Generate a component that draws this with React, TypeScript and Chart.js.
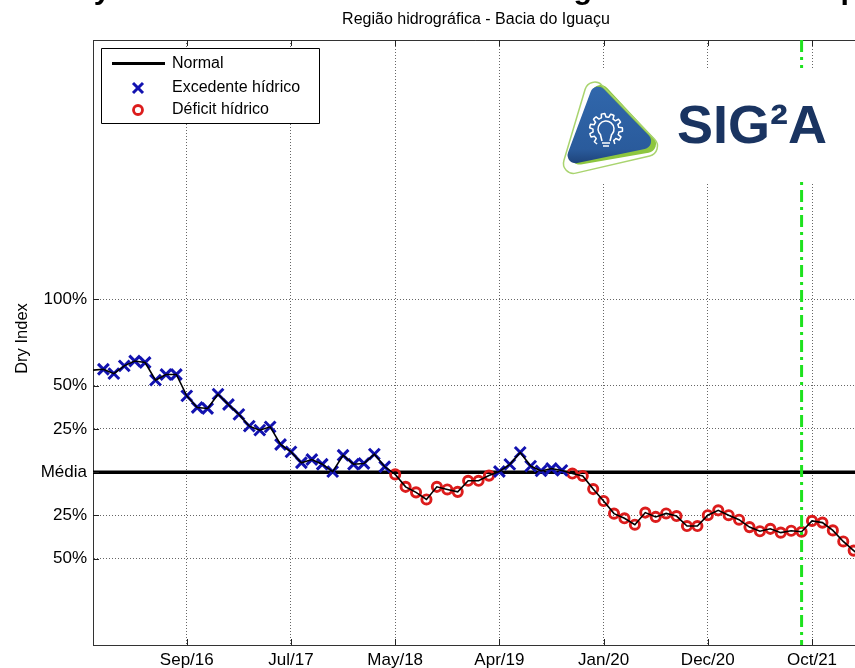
import React, { useEffect, useRef } from "react";
import { Chart, registerables } from "chart.js";

Chart.register(...registerables);

const FONT = '"Liberation Sans", Arial, Helvetica, sans-serif';

// Dry index per period (%, 0 = média). First value is the lead-in at the axis edge.
const dryIndex = [
  59.0, 59.5, 57.0, 61.5, 64.3, 63.4, 53.2, 56.5, 56.5, 44.1,
  37.4, 36.8, 45.1, 39.1, 33.4, 26.6, 24.3, 26.2, 16.0, 11.7,
  5.4, 7.3, 4.6, 0.3, 9.8, 4.6, 5.0, 10.4, 3.1, -1.3,
  -8.5, -11.7, -15.8, -8.5, -10.0, -11.4, -5.0, -5.0, -2.0, 0.4,
  4.5, 11.4, 3.5, 0.7, 2.1, 1.0, -0.8, -2.2, -9.8, -16.7,
  -24.0, -26.7, -30.4, -23.4, -25.9, -23.9, -25.4, -31.2, -31.2, -24.9,
  -22.1, -24.9, -27.5, -31.8, -34.2, -32.8, -35.0, -33.9, -34.5, -28.2,
  -29.2, -33.7, -40.1, -45.4, -50.5,
];
const tickIndices = [9, 19, 29, 39, 49, 59, 69];
const tickLabels = ["Sep/16", "Jul/17", "May/18", "Apr/19", "Jan/20", "Dec/20", "Oct/21"];
const yTickValues = [100, 50, 25, 0, -25, -50];
const yTickLabels = ["100%", "50%", "25%", "Média", "25%", "50%"];
const seriesNames = ["Normal", "Excedente hídrico", "Déficit hídrico"];
const normalValue = 0;
const markerIndex = 68;
const titleText = "Dry Index - Monitor da Seca Hidrológica Anual no Tempo";
const subtitleText = "Região hidrográfica - Bacia do Iguaçu";
const yAxisTitle = "Dry Index";
const logoText = "SIG²A";

const X_MIN = 0;
const X_MAX = 73.5;
const Y_MIN = -100;
const Y_MAX = 250;

const BLUE = "#1212b0";
const RED = "#dc1c1c";
const GREEN = "#1ee21e";

function line(ctx: CanvasRenderingContext2D, x1: number, y1: number, x2: number, y2: number) {
  ctx.beginPath();
  ctx.moveTo(x1, y1);
  ctx.lineTo(x2, y2);
  ctx.stroke();
}

function roundedPoly(ctx: CanvasRenderingContext2D, pts: number[][], r: number) {
  const n = pts.length;
  const a = pts[n - 1];
  const b = pts[0];
  ctx.beginPath();
  ctx.moveTo((a[0] + b[0]) / 2, (a[1] + b[1]) / 2);
  for (let i = 0; i < n; i++) {
    const p = pts[i];
    const q = pts[(i + 1) % n];
    ctx.arcTo(p[0], p[1], q[0], q[1], r);
  }
  ctx.closePath();
}

function drawX(ctx: CanvasRenderingContext2D, x: number, y: number, s: number) {
  ctx.strokeStyle = BLUE;
  ctx.lineWidth = 3;
  line(ctx, x - s, y - s, x + s, y + s);
  line(ctx, x - s, y + s, x + s, y - s);
}

function drawO(ctx: CanvasRenderingContext2D, x: number, y: number) {
  ctx.strokeStyle = RED;
  ctx.lineWidth = 2.8;
  ctx.beginPath();
  ctx.arc(x, y, 4.5, 0, Math.PI * 2);
  ctx.stroke();
}

const decorPlugin = {
  id: "decor",
  afterDraw(chart: any) {
    const ctx: CanvasRenderingContext2D = chart.ctx;
    const ca = chart.chartArea;
    const xs = chart.scales.x;
    const ys = chart.scales.y;
    ctx.save();

    // top border of the axes box
    ctx.strokeStyle = "#333";
    ctx.lineWidth = 1;
    line(ctx, ca.left, ca.top + 0.5, ca.right, ca.top + 0.5);

    // inward tick marks
    ctx.strokeStyle = "#222";
    tickIndices.forEach((v) => {
      const px = Math.round(xs.getPixelForValue(v)) + 0.5;
      line(ctx, px, ca.bottom, px, ca.bottom - 6);
      line(ctx, px, ca.top, px, ca.top + 6);
    });
    yTickValues.forEach((v) => {
      const py = Math.round(ys.getPixelForValue(v)) + 0.5;
      line(ctx, ca.left, py, ca.left + 6, py);
    });

    // green dash-dot vertical marker
    const gx = xs.getPixelForValue(markerIndex);
    ctx.strokeStyle = GREEN;
    ctx.lineWidth = 3;
    ctx.setLineDash([12, 5, 3, 5]);
    line(ctx, gx, ca.top, gx, ca.bottom);
    ctx.setLineDash([]);

    // logo
    ctx.fillStyle = "#ffffff";
    ctx.fillRect(548, 68, 320, 114);
    ctx.lineJoin = "round";
    ctx.fillStyle = "#8dc63f";
    roundedPoly(ctx, [[597, 77], [566, 167], [665, 150]], 9);
    ctx.fill();
    ctx.strokeStyle = "#a9d46f";
    ctx.lineWidth = 1.5;
    roundedPoly(ctx, [[590, 73], [559, 177], [667, 152]], 10);
    ctx.stroke();
    const grad = ctx.createLinearGradient(0, 82, 0, 166);
    grad.addColorStop(0, "#3168ad");
    grad.addColorStop(0.8, "#2a5b9c");
    grad.addColorStop(1, "#1c3f74");
    ctx.fillStyle = grad;
    roundedPoly(ctx, [[595, 80], [563, 166], [659, 146]], 8);
    ctx.fill();
    // gear + bulb icon
    const cx = 606;
    const cy = 130;
    ctx.strokeStyle = "#ffffff";
    ctx.lineWidth = 1.5;
    ctx.beginPath();
    const teeth = 9;
    const start = Math.PI * 0.68;
    const end = Math.PI * 2.32;
    for (let k = 0; k <= 72; k++) {
      const t = start + ((end - start) * k) / 72;
      const phase = ((t - start) / (end - start)) * teeth;
      const r = phase % 1 < 0.5 ? 16.5 : 13;
      const px = cx + Math.cos(t) * r;
      const py = cy + Math.sin(t) * r;
      if (k === 0) ctx.moveTo(px, py);
      else ctx.lineTo(px, py);
    }
    ctx.stroke();
    ctx.beginPath();
    ctx.arc(cx, cy - 1, 8, Math.PI * 0.72, Math.PI * 2.28);
    ctx.stroke();
    line(ctx, cx - 5.5, cy + 5, cx - 4, cy + 11);
    line(ctx, cx + 5.5, cy + 5, cx + 4, cy + 11);
    line(ctx, cx - 4, cy + 13, cx + 4, cy + 13);
    line(ctx, cx - 3, cy + 16, cx + 3, cy + 16);
    ctx.fillStyle = "#1a3461";
    ctx.font = `bold 54px ${FONT}`;
    ctx.textAlign = "left";
    ctx.textBaseline = "alphabetic";
    ctx.fillText(logoText, 677, 143);

    // legend
    ctx.fillStyle = "#ffffff";
    ctx.fillRect(101.5, 48.5, 218, 75);
    ctx.strokeStyle = "#000";
    ctx.lineWidth = 1;
    ctx.strokeRect(101.5, 48.5, 218, 75);
    ctx.lineWidth = 3;
    line(ctx, 112, 63.5, 165, 63.5);
    drawX(ctx, 138, 88, 5);
    drawO(ctx, 138, 110);
    ctx.fillStyle = "#000";
    ctx.font = `16px ${FONT}`;
    ctx.textBaseline = "middle";
    ctx.fillText(seriesNames[0], 172, 64);
    ctx.fillText(seriesNames[1], 172, 88);
    ctx.fillText(seriesNames[2], 172, 110);

    // titles (main title sits above the visible frame; only its descenders show)
    ctx.textAlign = "left";
    ctx.font = `bold 30.3px ${FONT}`;
    ctx.textBaseline = "alphabetic";
    ctx.fillText(titleText, 60, -1);
    const midX = (ca.left + ca.right) / 2;
    ctx.textAlign = "center";
    ctx.font = `16px ${FONT}`;
    ctx.textBaseline = "middle";
    ctx.fillText(subtitleText, midX, 20);

    // y axis title
    ctx.save();
    ctx.translate(22, (ca.top + ca.bottom) / 2 - 4);
    ctx.rotate(-Math.PI / 2);
    ctx.font = `16.5px ${FONT}`;
    ctx.textAlign = "center";
    ctx.textBaseline = "middle";
    ctx.fillText(yAxisTitle, 0, 0);
    ctx.restore();

    ctx.restore();
  },
};

export default function App() {
  const canvasRef = useRef<HTMLCanvasElement | null>(null);

  useEffect(() => {
    const canvas = canvasRef.current;
    if (!canvas) return;
    const points = dryIndex.map((v, i) => ({ x: i, y: v }));
    const marked = points.slice(1);
    const chart = new Chart(canvas, {
      type: "line",
      data: {
        datasets: [
          {
            label: "Dry Index",
            data: points,
            borderColor: "#000",
            borderWidth: 1.6,
            pointRadius: 0,
            tension: 0,
            clip: 0,
          },
          {
            label: seriesNames[1],
            data: marked.filter((p) => p.y >= normalValue),
            showLine: false,
            pointStyle: "crossRot",
            pointRadius: 7.6,
            pointBorderWidth: 3,
            pointBorderColor: BLUE,
            pointBackgroundColor: BLUE,
            clip: 0,
          },
          {
            label: seriesNames[2],
            data: marked.filter((p) => p.y < normalValue),
            showLine: false,
            pointStyle: "circle",
            pointRadius: 4.6,
            pointBorderWidth: 2.9,
            pointBorderColor: RED,
            pointBackgroundColor: "rgba(0,0,0,0)",
            clip: 0,
          },
          {
            label: seriesNames[0],
            data: [
              { x: X_MIN, y: normalValue },
              { x: X_MAX, y: normalValue },
            ],
            borderColor: "#000",
            borderWidth: 3.5,
            pointRadius: 0,
            clip: 0,
          },
        ],
      },
      options: {
        responsive: false,
        animation: false,
        devicePixelRatio: 1,
        events: [],
        layout: { padding: { top: 40, left: 0, right: 21.1, bottom: 0 } },
        plugins: {
          legend: { display: false },
          tooltip: { enabled: false },
          title: { display: false },
        },
        scales: {
          x: {
            type: "linear",
            min: X_MIN,
            max: X_MAX,
            afterBuildTicks: (s: any) => {
              s.ticks = tickIndices.map((v) => ({ value: v }));
            },
            afterFit: (s: any) => {
              s.height = 23;
            },
            ticks: {
              autoSkip: false,
              maxRotation: 0,
              padding: 5,
              color: "#000",
              font: { family: FONT, size: 17 },
              callback: (v: any) => {
                const i = tickIndices.indexOf(Number(v));
                return i >= 0 ? tickLabels[i] : "";
              },
            },
            grid: { color: "rgba(0,0,0,0.6)", lineWidth: 1, drawTicks: false },
            border: { display: true, color: "#333", width: 1, dash: [1, 2] },
          },
          y: {
            type: "linear",
            min: Y_MIN,
            max: Y_MAX,
            afterBuildTicks: (s: any) => {
              s.ticks = yTickValues.map((v) => ({ value: v }));
            },
            afterFit: (s: any) => {
              s.width = 93;
            },
            ticks: {
              autoSkip: false,
              padding: 6,
              color: "#000",
              font: { family: FONT, size: 17 },
              callback: (v: any) => {
                const i = yTickValues.indexOf(Number(v));
                return i >= 0 ? yTickLabels[i] : "";
              },
            },
            grid: { color: "rgba(0,0,0,0.6)", lineWidth: 1, drawTicks: false },
            border: { display: true, color: "#333", width: 1, dash: [1, 2] },
          },
        },
      },
      plugins: [decorPlugin],
    } as any);
    return () => chart.destroy();
  }, []);

  return (
    <div
      style={{
        position: "fixed",
        left: 0,
        top: 0,
        width: 855,
        height: 668,
        overflow: "hidden",
        background: "#fff",
      }}
    >
      <canvas ref={canvasRef} width={880} height={668} style={{ display: "block" }} />
    </div>
  );
}
